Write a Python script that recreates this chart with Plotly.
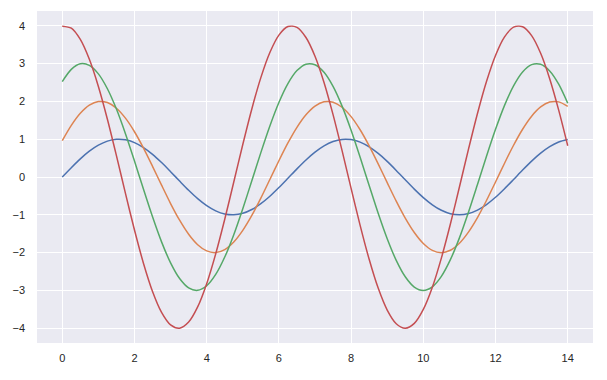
import plotly.graph_objects as go

x = [i * 0.25 for i in range(57)]

blue = [0, .247, .479, .682, .841, .949, .998, .984, .909, .778,
        .599, .382, .141, -.108, -.351, -.572, -.757, -.895, -.978, -.999,
        -.959, -.859, -.706, -.508, -.279, -.033, .215, .450, .657, .823,
        .938, .995, .989, .923, .799, .625, .412, .174, -.075, -.320,
        -.544, -.735, -.880, -.970, -1.0, -.968, -.876, -.729, -.537, -.311,
        -.066, .183, .420, .632, .804, .926, .991]
orange = [.959, 1.363, 1.683, 1.898, 1.995, 1.968, 1.819, 1.556, 1.197, .763,
          .282, -.216, -.702, -1.143, -1.514, -1.790, -1.955, -1.999, -1.918, -1.718,
          -1.411, -1.017, -.559, -.066, .430, .900, 1.314, 1.646, 1.876, 1.989,
          1.979, 1.845, 1.597, 1.250, .824, .348, -.150, -.639, -1.088, -1.469,
          -1.759, -1.940, -2.0, -1.936, -1.751, -1.457, -1.073, -.622, -.133, .365,
          .840, 1.263, 1.608, 1.852, 1.981, 1.987, 1.870]
green = [2.524, 2.847, 2.993, 2.952, 2.728, 2.334, 1.796, 1.145, .423, -.325,
         -1.052, -1.715, -2.270, -2.685, -2.933, -2.998, -2.877, -2.577, -2.117, -1.525,
         -.838, -.100, .645, 1.350, 1.971, 2.469, 2.814, 2.984, 2.968, 2.768,
         2.396, 1.874, 1.236, .522, -.226, -.959, -1.632, -2.204, -2.639, -2.910,
         -3.0, -2.903, -2.627, -2.186, -1.610, -.933, -.199, .548, 1.261, 1.895,
         2.411, 2.778, 2.972, 2.981, 2.805, 2.454, 1.951]
red = [3.990, 3.936, 3.637, 3.112, 2.394, 1.527, .564, -.433, -1.403, -2.286,
       -3.027, -3.580, -3.910, -3.997, -3.836, -3.436, -2.822, -2.033, -1.118, -.133,
       .860, 1.800, 2.628, 3.292, 3.752, 3.978, 3.958, 3.690, 3.194, 2.499,
       1.648, .696, -.301, -1.278, -2.176, -2.938, -3.519, -3.880, -4.0, -3.871,
       -3.502, -2.915, -2.146, -1.244, -.265, .730, 1.681, 2.526, 3.215, 3.704,
       3.962, 3.974, 3.740, 3.272, 2.601, 1.769, .826]

series = [blue, orange, green, red]
colors = ["#4C72B0", "#DD8452", "#55A868", "#C44E52"]
x_ticks = [0, 2, 4, 6, 8, 10, 12, 14]
y_ticks = [-4, -3, -2, -1, 0, 1, 2, 3, 4]

fig = go.Figure()
for ys, c in zip(series, colors):
    fig.add_trace(go.Scatter(x=x, y=ys, mode="lines", line=dict(color=c, width=1.5, shape="spline", smoothing=0.8),
                             showlegend=False, hoverinfo="skip"))

axis_common = dict(showgrid=True, gridcolor="white", gridwidth=1, zeroline=False, showline=False,
                   ticks="", tickfont=dict(family="Liberation Sans, Arial", size=11, color="#262626"))
fig.update_layout(
    width=607, height=380,
    margin=dict(l=37, r=14, t=11, b=37),
    paper_bgcolor="white", plot_bgcolor="#EAEAF2",
    xaxis=dict(range=[-0.7, 14.7], tickvals=x_ticks, ticklabelstandoff=7, **axis_common),
    yaxis=dict(range=[-4.39, 4.39], tickvals=y_ticks, ticktext=[str(v).replace("-", "\u2212") for v in y_ticks],
               ticklabelstandoff=11, **axis_common),
)
fig.write_html("out.html")
